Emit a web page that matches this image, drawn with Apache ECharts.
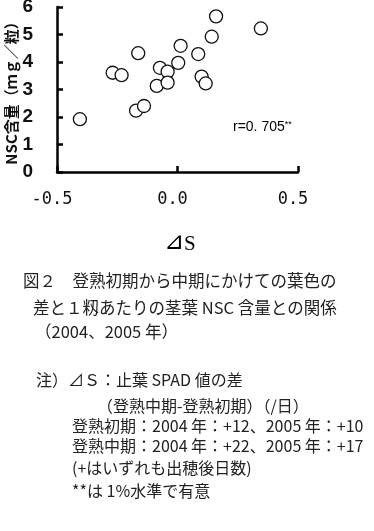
<!DOCTYPE html>
<html><head><meta charset="utf-8">
<script src="https://cdn.jsdelivr.net/npm/echarts@6/dist/echarts.min.js"></script>
<style>html,body{margin:0;padding:0;background:#fff}#c{width:374px;height:531px}</style>
</head><body><div id="c"></div>
<script>
const dS = [-0.405,-0.269,-0.232,-0.163,-0.172,-0.139,-0.086,-0.073,-0.041,-0.041,0.003,0.013,0.086,0.100,0.117,0.142,0.160,0.346];
const nsc = [1.92,3.61,3.52,4.32,2.23,2.40,3.13,3.79,3.65,3.25,3.97,4.59,4.29,3.47,3.22,4.92,5.66,5.22];
const xTicks = [-0.5, 0.0, 0.5];
const yTicks = [0,1,2,3,4,5,6];
const yName = 'NSC含量（ｍｇ／粒）';
const xName = ['⊿','S'];
const rText = 'r=0. 705';
const caption = ['図２　登熟初期から中期にかけての葉色の','差と１籾あたりの茎葉 NSC 含量との関係','（2004、2005 年）'];
const notes = ['注）⊿Ｓ：止葉 SPAD 値の差','（登熟中期-登熟初期）（/日）','登熟初期：2004 年：+12、2005 年：+10','登熟中期：2004 年：+22、2005 年：+17','(+はいずれも出穂後日数)','**は 1%水準で有意'];

const chart = echarts.init(document.getElementById('c'));
const cjk = '"Noto Sans CJK JP", "Noto Sans", sans-serif';
const capPos = [[23,282],[33,309],[35,333]];
const notePos = [[36,382],[97,408],[72,428],[72,448],[72,470],[72,493]];
const graphics = [];
caption.forEach((t,i)=>graphics.push({type:'text',left:capPos[i][0],top:capPos[i][1]-10,style:{text:t,font:'16.5px '+cjk,fill:'#222'}}));
notes.forEach((t,i)=>graphics.push({type:'text',left:notePos[i][0],top:notePos[i][1]-10,style:{text:t,font:'16px '+cjk,fill:'#222'}}));
graphics.push({type:'text',left:164,top:231,style:{text:'{t|'+xName[0]+'}{s|'+xName[1]+'}',rich:{t:{fontSize:24,fontFamily:'"DejaVu Sans", sans-serif',color:'#111',verticalAlign:'bottom'},s:{fontSize:21,fontFamily:'"Liberation Serif", serif',color:'#111',verticalAlign:'bottom'}}}});
graphics.push({type:'text',left:233,top:120,style:{text:'{a|'+rText+'}{b|**}',rich:{a:{fontSize:14,fontFamily:'"Liberation Sans", sans-serif',color:'#111'},b:{fontSize:9,verticalAlign:'top',color:'#111',padding:[0,0,6,0]}}}});

chart.setOption({
  animation:false,
  grid:{left:57,right:76,top:7,bottom:359,containLabel:false,outerBoundsMode:'none'},
  xAxis:{type:'value',min:-0.5,max:0.5,interval:0.5,
    axisLine:{show:true,onZero:false,lineStyle:{color:'#000',width:2.5}},
    axisTick:{show:true,inside:true,length:6,lineStyle:{color:'#000',width:2.5}},
    splitLine:{show:false},
    axisLabel:{margin:19,padding:[0,10,0,0],color:'#111',fontSize:17,fontFamily:'"DejaVu Sans Mono", monospace',
      formatter:v=>{const m=xTicks.find(t=>Math.abs(t-v)<1e-9);return m===undefined?'':m.toFixed(1);}}},
  yAxis:{type:'value',min:0,max:6,interval:1,name:yName,nameLocation:'middle',nameGap:38,nameRotate:90,nameMoveOverlap:false,
    nameTextStyle:{fontSize:15,fontWeight:'bold',color:'#111',fontFamily:cjk},
    axisLine:{show:true,onZero:false,lineStyle:{color:'#000',width:2.5}},
    axisTick:{show:true,inside:true,length:6,lineStyle:{color:'#000',width:2.5}},
    splitLine:{show:false},
    axisLabel:{margin:24,color:'#111',fontSize:19,fontWeight:'bold',fontFamily:'"Liberation Sans Narrow", "Liberation Sans", sans-serif',
      formatter:v=>yTicks.includes(v)?String(v):''}},
  series:[{type:'scatter',data:dS.map((x,i)=>[x,nsc[i]]),symbol:'circle',symbolSize:13,
    itemStyle:{color:'#fff',borderColor:'#111',borderWidth:1.3,opacity:1}}],
  graphic:graphics
});
</script></body></html>
